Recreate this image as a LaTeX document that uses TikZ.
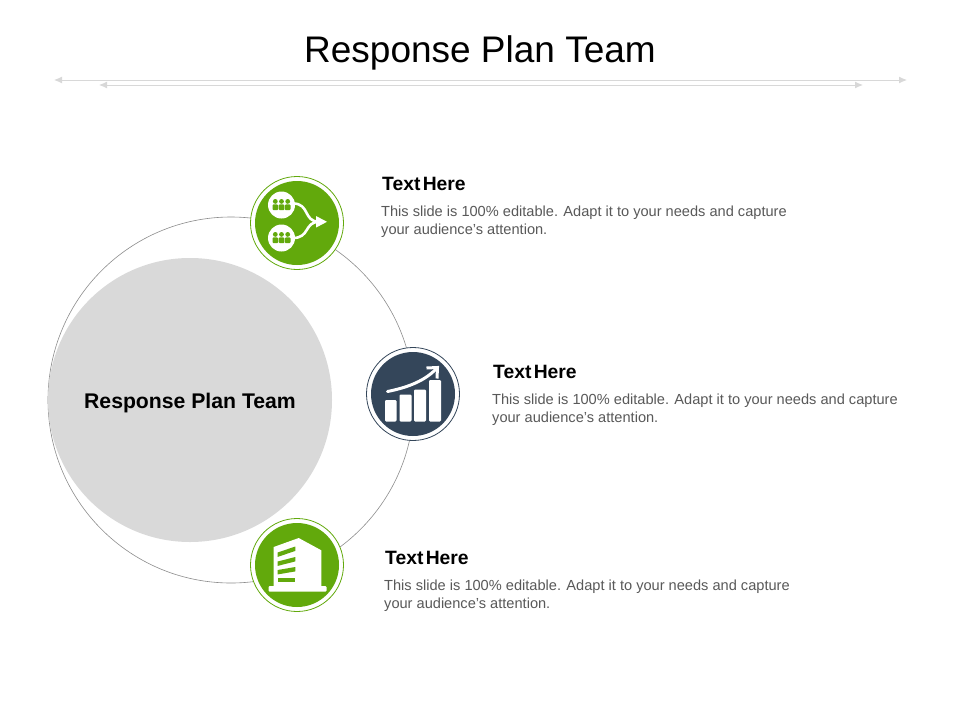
\documentclass[tikz,border=0pt]{standalone}
\usepackage{fontspec}
\setmainfont{Liberation Sans}
\usetikzlibrary{arrows.meta}
\definecolor{leaf}{HTML}{62A90C}
\definecolor{navy}{HTML}{34465A}
\definecolor{soft}{HTML}{D9D9D9}
\definecolor{rule}{HTML}{D8D8D8}
\definecolor{body}{HTML}{595959}
\tikzset{
  x=1pt,y=-1pt,
  titletext/.style={inner sep=0,font=\fontsize{37}{42}\selectfont,text=black},
  headtext/.style={inner sep=0,anchor=west,font=\fontsize{19.3}{22}\selectfont\bfseries,text=black},
  bodytext/.style={inner sep=0,anchor=west,font=\fontsize{14.6}{17}\selectfont,text=body},
  rulearrow/.style={draw=rule,line width=1pt,{Latex[length=8pt,width=7pt]}-{Latex[length=8pt,width=7pt]}},
  ringline/.style={draw=black!45,line width=0.6pt},
  disc/.style={circle,minimum size=84pt,inner sep=0},
  halo/.style={circle,minimum size=93pt,inner sep=0,fill=white,line width=0.8pt},
}
\newcommand{\headlabel}{Text\hspace{0.12em}Here}
\newcommand{\peoplegroup}[2]{%
  \fill[white] (#1,#2) circle (13.5);
  \foreach \dx in {-6.2,0,6.2}{
    \fill[leaf] (#1+\dx,#2-3.6) circle (2.4);
    \fill[leaf,rounded corners=1pt] (#1+\dx-2.8,#2+5.2) rectangle (#1+\dx+2.8,#2-0.6);
  }}
\begin{document}
\begin{tikzpicture}
\useasboundingbox (0,0) rectangle (960,720);
\fill[white] (0,0) rectangle (960,720);
\node[titletext] (title) at (480,53) {Response Plan Team};
\coordinate (ruleAL) at (54,80); \coordinate (ruleAR) at (907,80);
\coordinate (ruleBL) at (99,85); \coordinate (ruleBR) at (863,85);
\draw[rulearrow] (ruleAL) -- (ruleAR);
\draw[rulearrow] (ruleBL) -- (ruleBR);
% ring and hub
\node[circle,ringline,minimum size=366pt,inner sep=0] (ring) at (231,400) {};
\node[circle,fill=soft,minimum size=284pt,inner sep=0] (hub) at (190,400) {};
\node[inner sep=0,font=\fontsize{21.2}{24}\selectfont\bfseries] (hubtext) at (190,403) {Response Plan Team};
% icon 1
\node[halo,draw=leaf] (haloA) at (297,223) {};
\node[disc,fill=leaf] (discA) at (297,223) {};
\draw[white,line width=2.6pt] (293,203.5) .. controls (310,203.5) and (303,221.5) .. (319,221.8);
\draw[white,line width=2.6pt] (293,238) .. controls (310,238) and (304,222) .. (319,221.8);
\fill[white] (316,216) -- (327,221.8) -- (316,227.6) -- cycle;
\peoplegroup{281.5}{205}
\peoplegroup{281.5}{238}
% icon 2
\node[halo,draw=navy] (haloB) at (413,394) {};
\node[disc,fill=navy] (discB) at (413,394) {};
\foreach \xa/\xb/\yt in {385/396.5/400,399.5/411.5/394.5,414/426/389.5,429/441/380}{
  \fill[white,rounded corners=1.2pt] (\xa,\yt) rectangle (\xb,421.5);
}
\draw[white,line width=3pt,line cap=round] (387.5,391.5) .. controls (405,388) and (423,382) .. (435,370);
\draw[white,line width=3pt,line join=miter] (426.5,368) -- (437.5,367.5) -- (437,378.5);
% icon 3
\node[halo,draw=leaf] (haloC) at (297,565) {};
\node[disc,fill=leaf] (discC) at (297,565) {};
\fill[white] (273.7,547) -- (298.7,538) -- (321.3,550.3) -- (321.3,586) -- (273.7,586) -- cycle;
\fill[white,rounded corners=1pt] (268.5,586) rectangle (326.5,591.5);
\foreach \yl/\yr in {552.5/546.5,561.5/557,570/567,578/578}{
  \fill[leaf] (277.7,\yl) -- (295.3,\yr) -- (295.3,\yr+4.4) -- (277.7,\yl+4.4) -- cycle;
}
% text blocks
\node[headtext] (headA) at (382,183.5) {\headlabel};
\node[bodytext] (bodyA1) at (381,213) {This slide is 100\% editable. Adapt it to your needs and capture};
\node[bodytext] (bodyA2) at (381,231) {your audience's attention.};
\node[headtext] (headB) at (493,371.5) {\headlabel};
\node[bodytext] (bodyB1) at (492,401) {This slide is 100\% editable. Adapt it to your needs and capture};
\node[bodytext] (bodyB2) at (492,419) {your audience's attention.};
\node[headtext] (headC) at (385,557.5) {\headlabel};
\node[bodytext] (bodyC1) at (384,587) {This slide is 100\% editable. Adapt it to your needs and capture};
\node[bodytext] (bodyC2) at (384,605) {your audience's attention.};
\end{tikzpicture}
\end{document}
